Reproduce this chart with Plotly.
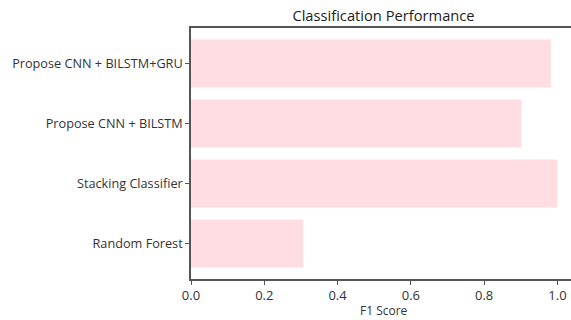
import plotly.graph_objects as go

models = ["Random Forest", "Stacking Classifier", "Propose CNN + BILSTM", "Propose CNN + BILSTM+GRU"]
f1_scores = [0.306, 1.0, 0.902, 0.982]
x_ticks = [0.0, 0.2, 0.4, 0.6, 0.8, 1.0]
x_tick_labels = ["0.0", "0.2", "0.4", "0.6", "0.8", "1.0"]

W, H = 571, 320
L, R, T, B = 191, 0, 28, 41
plot_h = H - T - B

fig = go.Figure(go.Bar(
    x=f1_scores, y=models, orientation="h",
    marker=dict(color="#FFDDE2", line=dict(width=0)),
    width=0.8,
))

axis_color = "#555555"
fig.update_layout(
    width=W, height=H,
    margin=dict(l=L, r=R, t=T, b=B, autoexpand=False),
    paper_bgcolor="white", plot_bgcolor="white",
    font=dict(family="Open Sans, DejaVu Sans, sans-serif", size=12, color="#333333"),
    title=dict(text="Classification Performance", x=383.5 / W, xref="container", xanchor="center",
               y=1 - 16 / H, yref="container", yanchor="middle",
               font=dict(size=14.7, color="#222222")),
    showlegend=False,
)
fig.update_xaxes(
    range=[0, 1.037], tickvals=x_ticks, ticktext=x_tick_labels,
    showline=True, linecolor=axis_color, linewidth=1.5, mirror=True,
    ticks="outside", ticklen=4, tickcolor=axis_color,
    showgrid=False, zeroline=False, automargin=False,
    tickfont=dict(size=13),
)
fig.update_yaxes(
    range=[-0.59, 3.59],
    showline=True, linecolor=axis_color, linewidth=1.5,
    ticks="outside", ticklen=4, tickcolor=axis_color,
    showgrid=False, zeroline=False, automargin=False,
    tickfont=dict(size=12.7),
)
fig.add_annotation(
    text="F1 Score", x=(383.5 - L) / (W - L - R), xref="paper", xanchor="center",
    y=-(310 - (H - B)) / plot_h, yref="paper", yanchor="middle",
    showarrow=False, font=dict(size=12, color="#333333"),
)

fig.write_html(
    "out.html",
    config={"displayModeBar": False},
    post_script="document.body.style.margin='0';document.body.style.overflow='hidden';",
)
